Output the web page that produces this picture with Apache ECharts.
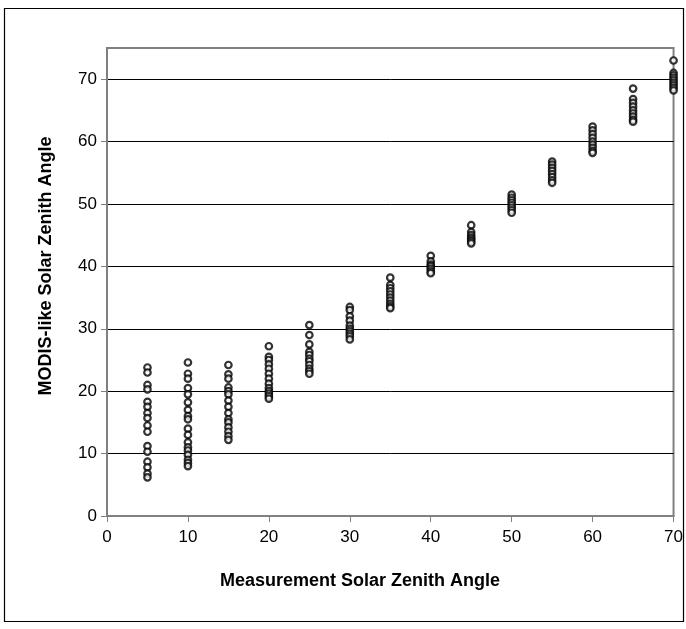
<!DOCTYPE html>
<html>
<head>
<meta charset="utf-8">
<script src="https://cdn.jsdelivr.net/npm/echarts@6/dist/echarts.min.js"></script>
<style>
html,body{margin:0;padding:0;background:#fff;}
#chart{width:686px;height:629px;}
</style>
</head>
<body>
<div id="chart"></div>
<script>
// Measurement solar zenith angles (x positions of each column)
const measuredAngles = [5, 10, 15, 20, 25, 30, 35, 40, 45, 50, 55, 60, 65, 70];
// MODIS-like solar zenith angles per measurement angle
const sza05 = [23.8, 23.0, 21.0, 20.3, 18.3, 17.5, 16.5, 15.7, 14.5, 13.5, 11.2, 10.3, 8.7, 7.8, 6.8, 6.2];
const sza10 = [24.6, 22.8, 22.0, 20.5, 19.5, 18.2, 17.0, 16.0, 15.5, 14.0, 13.0, 11.8, 11.0, 10.5, 9.8, 9.0, 8.5, 8.0];
const sza15 = [24.2, 22.7, 22.0, 20.6, 20.0, 19.5, 18.5, 17.5, 16.5, 15.5, 15.0, 14.2, 13.5, 12.8, 12.2];
const sza20 = [27.2, 25.5, 25.0, 24.3, 23.6, 22.8, 22.0, 21.2, 20.5, 20.0, 19.6, 19.2, 18.8];
const sza25 = [30.6, 29.0, 27.5, 26.3, 25.8, 25.2, 24.8, 24.2, 23.6, 23.2, 22.8];
const sza30 = [33.5, 33.0, 32.0, 31.3, 30.5, 30.0, 29.6, 29.2, 28.8, 28.3];
const sza35 = [38.2, 37.0, 36.5, 36.0, 35.5, 35.0, 34.5, 34.0, 33.6, 33.3];
const sza40 = [41.7, 40.8, 40.3, 40.0, 39.6, 39.2, 38.9];
const sza45 = [46.6, 45.5, 45.0, 44.6, 44.3, 44.0, 43.7];
const sza50 = [51.5, 51.0, 50.6, 50.2, 49.8, 49.4, 49.0, 48.6];
const sza55 = [56.8, 56.3, 55.8, 55.3, 54.8, 54.3, 53.8, 53.4];
const sza60 = [62.4, 61.8, 61.2, 60.6, 60.0, 59.5, 59.0, 58.5, 58.2];
const sza65 = [68.5, 66.8, 66.2, 65.6, 65.0, 64.5, 64.0, 63.5, 63.2];
const sza70 = [73.0, 71.0, 70.6, 70.2, 69.8, 69.4, 69.0, 68.6, 68.2];
const xTickValues = [0, 10, 20, 30, 40, 50, 60, 70];
const yTickValues = [0, 10, 20, 30, 40, 50, 60, 70];

const columns = [sza05, sza10, sza15, sza20, sza25, sza30, sza35, sza40, sza45, sza50, sza55, sza60, sza65, sza70];
const points = [];
columns.forEach((col, i) => col.forEach(v => points.push([measuredAngles[i], v])));

const chart = echarts.init(document.getElementById('chart'));
const font = 'Liberation Sans, Arial, sans-serif';
chart.setOption({
  animation: false,
  backgroundColor: '#fff',
  grid: {left: 107, top: 48, width: 568, height: 468, show: true, borderColor: '#808080', borderWidth: 2, backgroundColor: 'transparent'},
  graphic: [
    {type: 'rect', shape: {x: 4.5, y: 8.5, width: 679, height: 613}, style: {fill: 'none', stroke: '#000', lineWidth: 1.2}, z: 100},
    {type: 'text', x: 360, y: 581, style: {text: 'Measurement Solar Zenith Angle', font: 'bold 18px ' + font, fill: '#000', textAlign: 'center', textVerticalAlign: 'middle'}},
    {type: 'text', x: 46, y: 266, rotation: Math.PI / 2, style: {text: 'MODIS-like Solar Zenith Angle', font: 'bold 18px ' + font, fill: '#000', textAlign: 'center', textVerticalAlign: 'middle'}}
  ],
  xAxis: {
    type: 'value', min: 0, max: 70, interval: 10,
    axisLine: {show: true, lineStyle: {color: '#808080', width: 2}},
    axisTick: {show: true, inside: false, length: 6, customValues: xTickValues, lineStyle: {color: '#808080', width: 1}},
    axisLabel: {color: '#000', fontSize: 17, fontFamily: font, margin: 13, customValues: xTickValues},
    splitLine: {show: false}
  },
  yAxis: {
    type: 'value', min: 0, max: 75, interval: 10,
    axisLine: {show: true, lineStyle: {color: '#808080', width: 2}},
    axisTick: {show: true, length: 6, customValues: yTickValues, lineStyle: {color: '#808080', width: 1}},
    axisLabel: {color: '#000', fontSize: 17, fontFamily: font, margin: 10, customValues: yTickValues},
    splitLine: {show: true, lineStyle: {color: '#000', width: 1}}
  },
  series: [{
    type: 'scatter',
    data: points,
    symbol: 'circle',
    symbolSize: 6.5,
    itemStyle: {color: '#fff', borderColor: '#000', borderWidth: 2.2},
    clip: false
  }]
});
</script>
</body>
</html>
